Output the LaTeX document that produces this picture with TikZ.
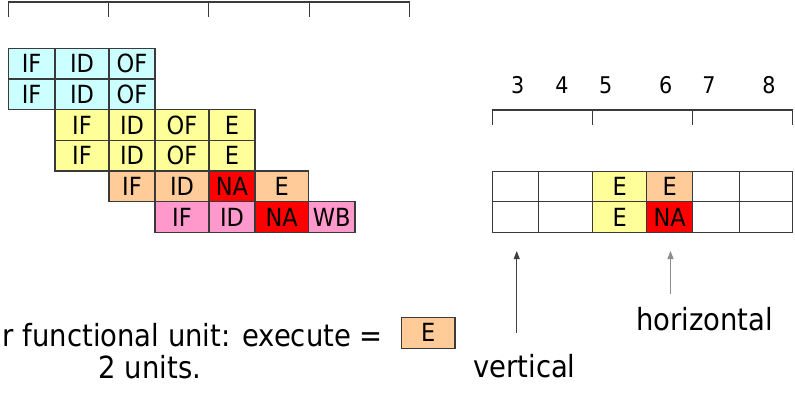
\documentclass[tikz,border=0pt]{standalone}
\usepackage{fontspec}
\usetikzlibrary{arrows.meta}
\newfontfamily\tah[FakeStretch=0.9]{DejaVu Sans}
\definecolor{cyanc}{HTML}{CCFFFF}
\definecolor{yelc}{HTML}{FFFF99}
\definecolor{orac}{HTML}{FFCC99}
\definecolor{redc}{HTML}{FF0000}
\definecolor{pinc}{HTML}{FF99CC}
\definecolor{linec}{HTML}{3A3A3A}
\newcommand\pcell[7]{%
  \node[cellbox, fill=#6, minimum width={(#3-#2)*1pt}, minimum height={(#5-#4)*1pt}]
    (#1) at ({(#2+#3)/2},{(#4+#5)/2}) {#7};}
\begin{document}
\begin{tikzpicture}[x=1pt,y=-1pt,
  cellbox/.style={draw=linec, line width=1.1pt, inner sep=0pt, outer sep=0pt,
    font=\tah\fontsize{25}{30}\selectfont, text height=18pt, text depth=0pt},
  bracket/.style={draw=linec, line width=1.3pt},
  numlbl/.style={font=\tah\fontsize{23}{28}\selectfont, anchor=base, inner sep=0pt},
  biglbl/.style={font=\tah\fontsize{30.5}{36}\selectfont, inner sep=0pt},
  ptr/.style={draw=#1, line width=1pt, -{Triangle[length=8pt,width=6pt]}}]
\useasboundingbox (0,0) rectangle (795,392);
\clip (0,0) rectangle (795,392);
% top-left bracket
\draw[bracket] (8.3,17) -- (8.3,2) -- (409.3,2) -- (409.3,17);
\foreach \tx in {108.3,208.3,309.3}{\draw[bracket] (\tx,2) -- (\tx,17);}
% pipeline rows
\pcell{a1}{8.3}{55}{48.3}{79}{cyanc}{IF}
\pcell{a2}{55}{109}{48.3}{79}{cyanc}{ID}
\pcell{a3}{109}{155}{48.3}{79}{cyanc}{OF}
\pcell{b1}{8.3}{55}{79}{109.7}{cyanc}{IF}
\pcell{b2}{55}{109}{79}{109.7}{cyanc}{ID}
\pcell{b3}{109}{155}{79}{109.7}{cyanc}{OF}
\pcell{c1}{55}{109}{109.7}{140.3}{yelc}{IF}
\pcell{c2}{109}{155}{109.7}{140.3}{yelc}{ID}
\pcell{c3}{155}{209}{109.7}{140.3}{yelc}{OF}
\pcell{c4}{209}{255}{109.7}{140.3}{yelc}{E}
\pcell{d1}{55}{109}{140.3}{171}{yelc}{IF}
\pcell{d2}{109}{155}{140.3}{171}{yelc}{ID}
\pcell{d3}{155}{209}{140.3}{171}{yelc}{OF}
\pcell{d4}{209}{255}{140.3}{171}{yelc}{E}
\pcell{e1}{109}{155}{171}{201.7}{orac}{IF}
\pcell{e2}{155}{209}{171}{201.7}{orac}{ID}
\pcell{e3}{209}{255}{171}{201.7}{redc}{NA}
\pcell{e4}{255}{308.3}{171}{201.7}{orac}{E}
\pcell{f1}{155}{209}{201.7}{232.3}{pinc}{IF}
\pcell{f2}{209}{255}{201.7}{232.3}{pinc}{ID}
\pcell{f3}{255}{308.3}{201.7}{232.3}{redc}{NA}
\pcell{f4}{308.3}{355}{201.7}{232.3}{pinc}{WB}
% right time axis
\node[numlbl] (n3) at (517.7,93.3) {3};
\node[numlbl] (n4) at (562,93.3) {4};
\node[numlbl] (n5) at (605.7,93.3) {5};
\node[numlbl] (n6) at (665.7,93.3) {6};
\node[numlbl] (n7) at (709,93.3) {7};
\node[numlbl] (n8) at (769,93.3) {8};
\draw[bracket] (492.7,125) -- (492.7,110) -- (792.7,110) -- (792.7,125);
\foreach \tx in {592.7,692.7}{\draw[bracket] (\tx,110) -- (\tx,125);}
% right grid
\pcell{g1}{492.7}{538.7}{171.5}{201.7}{white}{}
\pcell{g2}{538.7}{592.7}{171.5}{201.7}{white}{}
\pcell{g3}{592.7}{646.7}{171.5}{201.7}{yelc}{E}
\pcell{g4}{646.7}{692.7}{171.5}{201.7}{orac}{E}
\pcell{g5}{692.7}{739.3}{171.5}{201.7}{white}{}
\pcell{g6}{739.3}{792.7}{171.5}{201.7}{white}{}
\pcell{h1}{492.7}{538.7}{201.7}{232.5}{white}{}
\pcell{h2}{538.7}{592.7}{201.7}{232.5}{white}{}
\pcell{h3}{592.7}{646.7}{201.7}{232.5}{yelc}{E}
\pcell{h4}{646.7}{692.7}{201.7}{232.5}{redc}{NA}
\pcell{h5}{692.7}{739.3}{201.7}{232.5}{white}{}
\pcell{h6}{739.3}{792.7}{201.7}{232.5}{white}{}
% arrows and labels
\coordinate (vbot) at (516.7,333);
\coordinate (vtop) at (516.7,251);
\coordinate (hbot) at (670.5,294);
\coordinate (htop) at (670.5,251);
\draw[ptr=black!75] (vbot) -- (vtop);
\draw[ptr=black!45] (hbot) -- (htop);
\node[biglbl, anchor=base west] (vlbl) at (473,377) {vertical};
\node[biglbl, anchor=base west] (hlbl) at (636,330) {horizontal};
% bottom text
\node[biglbl, anchor=base east] (txt1) at (383,346) {r functional unit: execute =};
\node[biglbl, anchor=base] (txt2) at (150,378) {2 units.};
\pcell{ebox}{401.7}{455}{317.3}{348.3}{orac}{E}
\end{tikzpicture}
\end{document}
